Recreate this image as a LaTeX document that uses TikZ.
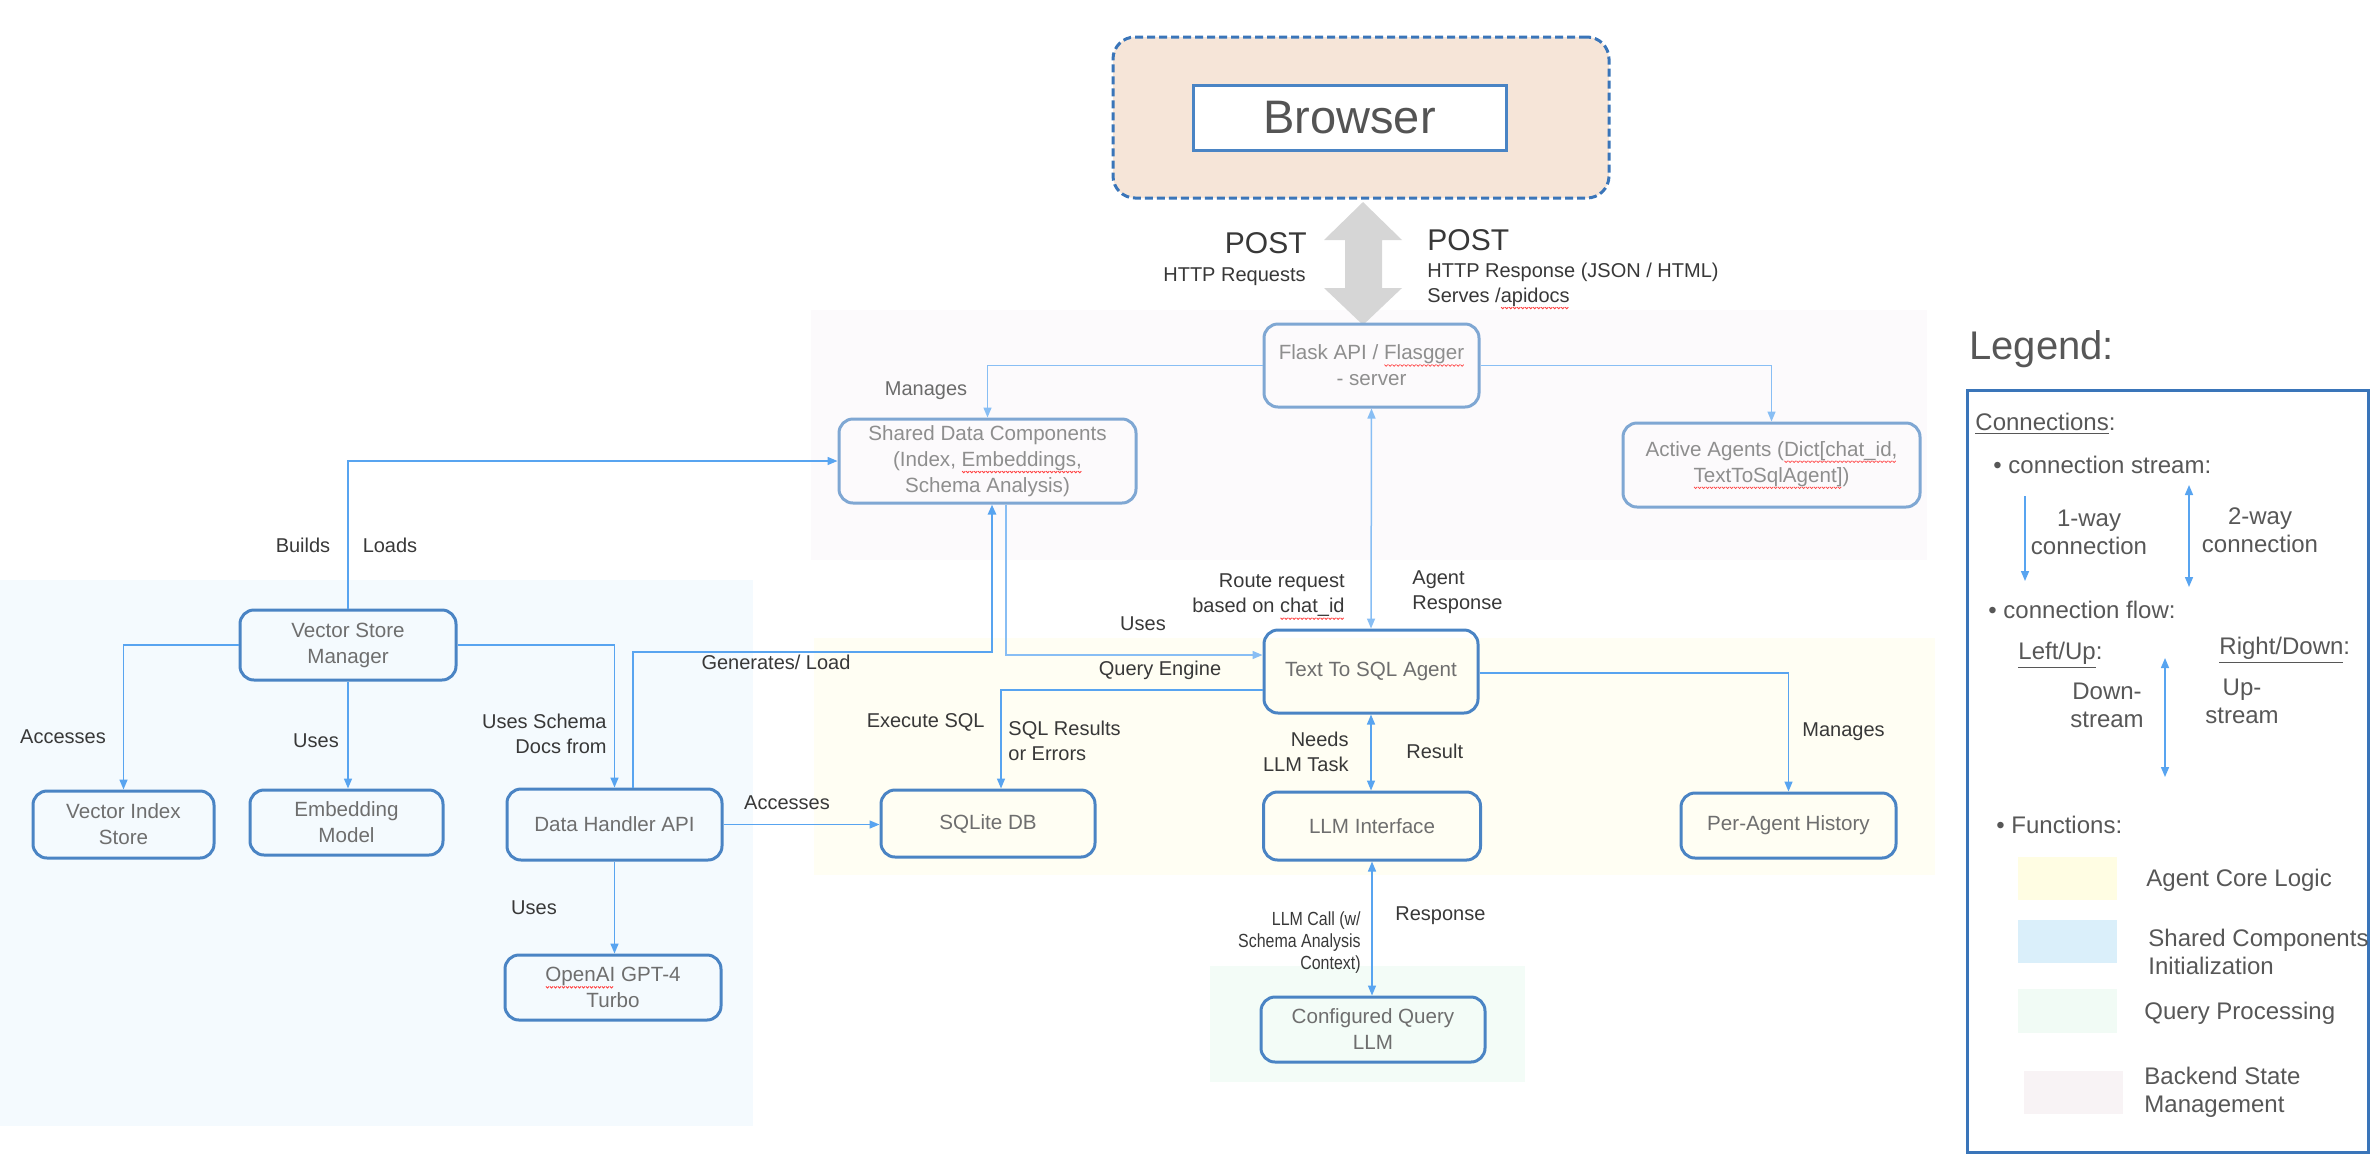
\documentclass[tikz,border=0pt]{standalone}
\usepackage{fontspec}
\setmainfont{Liberation Sans}
\newfontfamily\condfont[FakeStretch=0.84]{Liberation Sans}
\usepackage{tikz}
\usetikzlibrary{arrows.meta}

\definecolor{boxblue}{HTML}{4A84C4}
\definecolor{paleblue}{HTML}{7FA7D3}
\definecolor{linkblue}{HTML}{58A4F0}
\definecolor{palelink}{HTML}{88BEF4}
\definecolor{boxgrey}{HTML}{6E6E6E}
\definecolor{palegrey}{HTML}{8E8E8E}
\definecolor{labelgrey}{HTML}{383838}
\definecolor{bgpink}{HTML}{FCFAFC}
\definecolor{bgyellow}{HTML}{FFFEF3}
\definecolor{bgblue}{HTML}{F4FAFE}
\definecolor{bggreen}{HTML}{F3FCF7}
\definecolor{peach}{HTML}{F6E5D8}
\definecolor{legtext}{HTML}{575757}
\definecolor{legblue}{HTML}{3A75B9}
\definecolor{swyellow}{HTML}{FFFDE3}
\definecolor{swblue}{HTML}{DAEFFA}
\definecolor{swgreen}{HTML}{F1FBF5}
\definecolor{swpink}{HTML}{F8F3F5}

\newcommand\spellmark{\tikz[baseline=0pt]\draw[red!75,line width=0.4pt,sharp corners,solid] (0pt,-2.4pt) -- (0.8pt,-3.2pt) -- (1.6pt,-2.4pt);}
\newcommand\spell[1]{\sbox0{#1}\rlap{\usebox0}\hbox to \wd0{\leaders\hbox{\spellmark}\hfill}}

\begin{document}
\begin{tikzpicture}[x=0.5pt,y=-0.5pt,>={Triangle[length=5pt,width=4pt]},
    box/.style={draw=boxblue,line width=1.5pt,rounded corners=7pt,align=center,
        text=boxgrey,font=\fontsize{10.3}{13}\selectfont,inner sep=0pt},
    palebox/.style={box,draw=paleblue,text=palegrey},
    lbl/.style={text=labelgrey,font=\fontsize{10}{12.5}\selectfont,inner sep=0pt,align=left},
    conn/.style={draw=linkblue,line width=0.75pt,->},
    paleconn/.style={conn,draw=palelink},
    legtxt/.style={text=legtext,font=\fontsize{12}{14}\selectfont,inner sep=0pt,align=left}]
\useasboundingbox (0,0) rectangle (2372,1158);

\fill[bgpink] (811,310) rectangle (1927,560);
\fill[bgyellow] (814,638) rectangle (1935,875);
\fill[bgblue] (0,580) rectangle (753,1126);
\fill[bggreen] (1210,966) rectangle (1525,1082);

\node[draw=legblue,dash pattern=on 4pt off 2pt,line width=1.5pt,fill=peach,rounded corners=11pt,
    minimum width=248pt,minimum height=80.5pt] (browserbg) at (1361,117.5) {};
\node[draw=boxblue,line width=1.5pt,fill=white,minimum width=156.5pt,minimum height=32.5pt,
    text=black!67,font=\fontsize{23.5}{26}\selectfont] (browser) at (1349.5,117.5) {Browser};

\fill[black!16] (1363,202) -- (1402,240) -- (1382,240) -- (1382,288) -- (1402,288) -- (1363,325)
    -- (1324,288) -- (1345,288) -- (1345,240) -- (1324,240) -- cycle;

\node[lbl,anchor=east,font=\fontsize{15}{18}\selectfont] (postin) at (1307,243) {POST};
\node[lbl,anchor=east] (httpin) at (1306,277) {HTTP Requests};
\node[lbl,anchor=west,font=\fontsize{15}{18}\selectfont] (postout) at (1427,240) {POST};
\node[lbl,anchor=west] (httpout) at (1427,286) {HTTP Response (JSON / HTML)\\Serves /\spell{apidocs}};

\node[palebox,minimum width=107.5pt,minimum height=41.5pt] (flask) at (1371.5,365.5) {Flask API / \spell{Flasgger}\\- server};
\node[palebox,minimum width=148.5pt,minimum height=42pt] (shared) at (987.5,461) {Shared Data Components\\(Index, \spell{Embeddings,}\\Schema Analysis)};
\node[palebox,minimum width=148.5pt,minimum height=42pt] (agents) at (1771.5,465) {Active Agents (\spell{Dict[chat\_id,}\\\spell{TextToSqlAgent]})};
\node[box,minimum width=107pt,minimum height=41.5pt] (tts) at (1371,671.5) {Text To SQL Agent};
\node[box,minimum width=107pt,minimum height=33.5pt] (sqlite) at (988,823.5) {SQLite DB};
\node[box,minimum width=108.5pt,minimum height=34pt] (llm) at (1372,826) {LLM Interface};
\node[box,minimum width=107.5pt,minimum height=32.5pt] (pah) at (1788.5,825.5) {Per-Agent History};
\node[box,minimum width=112pt,minimum height=32.5pt] (cfg) at (1373,1029.5) {Configured Query\\LLM};
\node[box,minimum width=108pt,minimum height=35pt] (vsm) at (348,645) {Vector Store\\Manager};
\node[box,minimum width=90.5pt,minimum height=33.5pt] (vis) at (123.5,824.5) {Vector Index\\Store};
\node[box,minimum width=96.5pt,minimum height=32.5pt] (emb) at (346.5,822.5) {Embedding\\Model};
\node[box,minimum width=107.5pt,minimum height=35.5pt] (dh) at (614.5,824.5) {Data Handler API};
\node[box,minimum width=108pt,minimum height=32.5pt] (openai) at (613,987.5) {\spell{OpenAI} GPT-4\\Turbo};

\draw[paleconn] (flask.west) -| (shared.north);
\draw[paleconn] (flask.east) -| (agents.north);
\draw[paleconn,<->] (flask.south) -- (tts.north);
\draw[conn] (vsm.north) |- (shared.west);
\draw[conn] (vsm.west) -| (vis.north);
\draw[conn] (vsm.south) -- (vsm.south |- emb.north);
\draw[conn] (vsm.east) -| (dh.north);
\draw[conn,line width=1.3pt] (633,0 |- dh.north) |- (992,652) -- (992,0 |- shared.south);
\draw[paleconn] (1006,0 |- shared.south) |- (tts.west |- 0,655);
\draw[conn] (tts.west |- 0,690) -| (1001,0 |- sqlite.north);
\draw[conn] (dh.east) -- (dh.east -| sqlite.west);
\draw[conn,<->] (tts.south) -- (tts.south |- llm.north);
\draw[conn,<->] (llm.south) -- (llm.south |- cfg.north);
\draw[conn] (tts.east |- 0,673) -| (pah.north);
\draw[conn] (dh.south) -- (dh.south |- openai.north);

\node[lbl,text=black!58] (manages1) at (926,391) {Manages};
\node[lbl,anchor=east,align=right] (route) at (1345,597) {Route request\\based on \spell{chat\_id}};
\node[lbl,anchor=west] (agentresp) at (1412,592) {Agent\\Response};
\node[lbl] (uses1) at (1143,624) {Uses};
\node[lbl] (qengine) at (1160,670) {Query Engine};
\node[lbl,anchor=east] (execsql) at (985,722) {Execute SQL};
\node[lbl,anchor=west] (sqlres) at (1008,741) {SQL Results\\or Errors};
\node[lbl,anchor=east,align=right] (needs) at (1349,752) {Needs\\LLM Task};
\node[lbl,anchor=west] (result) at (1406,751) {Result};
\node[lbl,anchor=east,align=right,font=\condfont\fontsize{9.5}{11}\selectfont] (llmcall) at (1361,943) {LLM Call (w/\\Schema Analysis\\Context)};
\node[lbl,anchor=west] (response) at (1395,916) {Response};
\node[lbl,anchor=west] (manages2) at (1802,732) {Manages};
\node[lbl] (builds) at (303,545) {Builds};
\node[lbl] (loads) at (390,545) {Loads};
\node[lbl] (accesses1) at (63,737) {Accesses};
\node[lbl] (uses2) at (316,741) {Uses};
\node[lbl,anchor=east,align=right] (schemadocs) at (607,734) {Uses Schema\\Docs from};
\node[lbl] (genload) at (776,662) {Generates/ Load};
\node[lbl] (accesses2) at (787,803) {Accesses};
\node[lbl] (uses3) at (534,908) {Uses};

\node[legtxt,anchor=west,font=\fontsize{20}{24}\selectfont] (legend) at (1969,349) {Legend:};
\draw[legblue,line width=1.5pt] (1967,390) rectangle (2368,1152);
\node[legtxt,anchor=west] (connections) at (1975,424) {\underline{Connections}:};
\node[legtxt,anchor=west] (stream) at (1993,465) {\textbullet\ connection stream:};
\coordinate (oneA) at (2025,496);
\coordinate (oneB) at (2025,581);
\draw[conn] (oneA) -- (oneB);
\node[legtxt,align=center] (oneway) at (2089,532) {1-way\\connection};
\coordinate (twoA) at (2189,485);
\coordinate (twoB) at (2189,587);
\draw[conn,<->] (twoA) -- (twoB);
\node[legtxt,align=center] (twoway) at (2260,530) {2-way\\connection};
\node[legtxt,anchor=west] (flow) at (1988,610) {\textbullet\ connection flow:};
\node[legtxt,anchor=west] (leftup) at (2018,655) {\underline{Left/Up}:};
\node[legtxt,anchor=west] (rightdown) at (2219,650) {\underline{Right/Down}:};
\node[legtxt,align=center] (downstream) at (2107,705) {Down-\\stream};
\coordinate (flowA) at (2165,658);
\coordinate (flowB) at (2165,777);
\draw[conn,<->] (flowA) -- (flowB);
\node[legtxt,align=center] (upstream) at (2242,701) {Up-\\stream};
\node[legtxt,anchor=west] (functions) at (1996,825) {\textbullet\ Functions:};
\fill[swyellow] (2018,857) rectangle (2117,900);
\fill[swblue] (2018,920) rectangle (2117,963);
\fill[swgreen] (2018,989) rectangle (2117,1033);
\fill[swpink] (2024,1071) rectangle (2123,1114);
\node[legtxt,anchor=west] (corelogic) at (2146,880) {Agent Core Logic};
\node[legtxt,anchor=west] (sharedinit) at (2148,952) {Shared Components\\Initialization};
\node[legtxt,anchor=west] (queryproc) at (2144,1013) {Query Processing};
\node[legtxt,anchor=west] (backend) at (2144,1092) {Backend State\\Management};
\end{tikzpicture}
\end{document}
